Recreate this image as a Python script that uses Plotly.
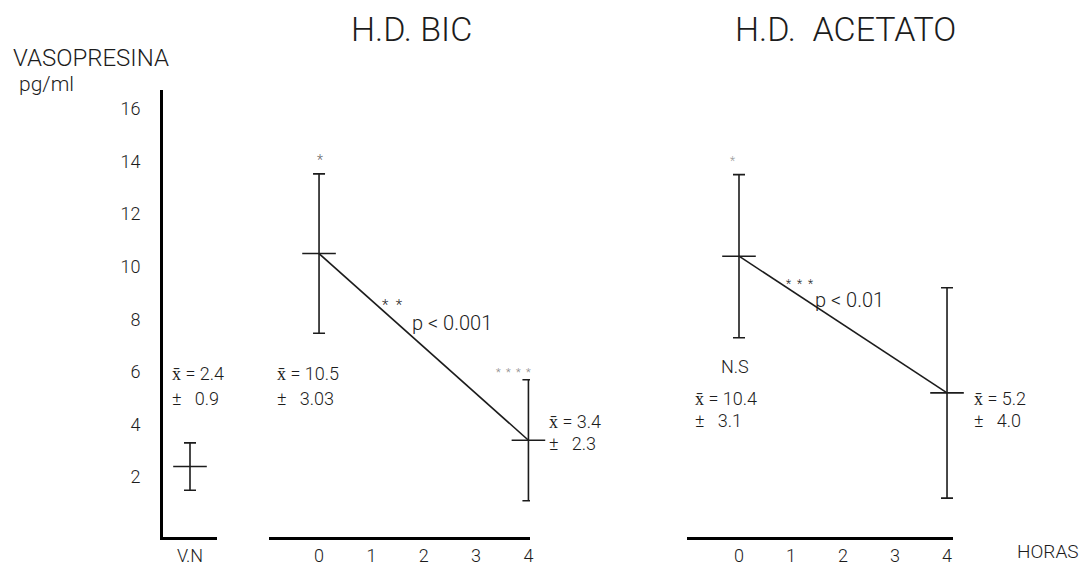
import plotly.graph_objects as go

# Vasopresina (pg/ml): mean and SD for normal volunteers and two dialysis groups
vn_label = ["V.N"]
vn_mean = [2.4]
vn_sd = [0.9]

horas = [0, 4]
bic_mean = [10.5, 3.4]
bic_sd = [3.03, 2.3]
acet_mean = [10.4, 5.2]
acet_sd = [3.1, 4.0]

y_ticks = [2, 4, 6, 8, 10, 12, 14, 16]
hour_ticks = [0, 1, 2, 3, 4]

FONT = "Roboto"
INK = "#1c1c1c"
W, H = 1090, 565


def px_x(p):
    return p / W


def px_y(p):
    return (H - p) / H


# panel geometry (paper fractions) and data ranges
Y_DOMAIN = [px_y(537), px_y(90)]
Y_RANGE = [-0.28, 16.72]
X_AXES = {
    "x": dict(domain=[px_x(163), px_x(217)], range=[-1, 1]),
    "x2": dict(domain=[px_x(269), px_x(530)], range=[-0.956, 4.03]),
    "x3": dict(domain=[px_x(687), px_x(953)], range=[-1.0, 4.115]),
}


def to_paper(xref, x, y):
    d, r = X_AXES[xref]["domain"], X_AXES[xref]["range"]
    px = d[0] + (x - r[0]) / (r[1] - r[0]) * (d[1] - d[0])
    py = Y_DOMAIN[0] + (y - Y_RANGE[0]) / (Y_RANGE[1] - Y_RANGE[0]) * (Y_DOMAIN[1] - Y_DOMAIN[0])
    return px, py


fig = go.Figure()


def group(xaxis, xs, means, sds, connect):
    if connect:
        fig.add_trace(go.Scatter(
            x=xs, y=means, xaxis=xaxis, yaxis="y", mode="lines",
            line=dict(color=INK, width=1.6), hoverinfo="skip", showlegend=False,
        ))
    fig.add_trace(go.Scatter(
        x=xs, y=means, xaxis=xaxis, yaxis="y", mode="markers",
        marker=dict(symbol="line-ew", size=24, color=INK,
                    line=dict(width=1.6, color=INK)),
        error_y=dict(type="data", array=sds, visible=True,
                     thickness=1.6, width=6, color=INK),
        cliponaxis=False, hoverinfo="skip", showlegend=False,
    ))


group("x", [0], vn_mean, vn_sd, False)
group("x2", horas, bic_mean, bic_sd, True)
group("x3", horas, acet_mean, acet_sd, True)

axis_common = dict(
    showline=True, linewidth=3, linecolor="black", showgrid=False,
    zeroline=False, ticks="", fixedrange=True, automargin=False,
    tickfont=dict(family=FONT, size=18, color=INK, weight=300),
    anchor="y", ticklabelstandoff=0,
)

fig.update_layout(
    width=W, height=H,
    margin=dict(l=0, r=0, t=0, b=0),
    paper_bgcolor="white", plot_bgcolor="white",
    xaxis=dict(axis_common, **X_AXES["x"], tickvals=[0], ticktext=vn_label),
    xaxis2=dict(axis_common, **X_AXES["x2"], tickvals=hour_ticks,
                ticktext=[str(h) for h in hour_ticks]),
    xaxis3=dict(axis_common, **X_AXES["x3"], tickvals=hour_ticks,
                ticktext=[str(h) for h in hour_ticks]),
    yaxis=dict(
        showline=True, linewidth=3, linecolor="black", showgrid=False,
        zeroline=False, ticks="", fixedrange=True, anchor="x", automargin=False,
        domain=Y_DOMAIN, range=Y_RANGE,
        tickvals=y_ticks, ticktext=[str(v) for v in y_ticks],
        tickfont=dict(family=FONT, size=18, color=INK, weight=300),
        ticklabelstandoff=16,
    ),
    font=dict(family=FONT, color=INK),
)


def note(text, x, y, xref, size=18, xanchor="left", color=INK):
    if xref != "paper":
        x, y = to_paper(xref, x, y)
    fig.add_annotation(
        text=text, x=x, y=y, xref="paper", yref="paper",
        showarrow=False, xanchor=xanchor, yanchor="middle",
        font=dict(family=FONT, size=size, color=color, weight=300),
    )


XBAR = "x\u0304"

# Normal volunteers
note(f"{XBAR} = {vn_mean[0]}", -0.74, 5.95, "x")
note(f"\u00b1   {vn_sd[0]}", -0.74, 5.0, "x")

# H.D. bicarbonato
note("*", 0.02, 14.05, "x2", size=14, xanchor="center", color="#666")
note("*  *", 1.41, 8.55, "x2", size=15, xanchor="center")
note("p &lt; 0.001", 1.74, 7.86, "x2", size=20)
note(f"{XBAR} = {bic_mean[0]}", -0.84, 5.92, "x2")
note(f"\u00b1   {bic_sd[0]}", -0.84, 5.0, "x2")
note("*  *  *  *", 3.71, 5.96, "x2", size=11, xanchor="center", color="#888")
note(f"{XBAR} = {bic_mean[1]}", 4.36, 4.1, "x2")
note(f"\u00b1   {bic_sd[1]}", 4.36, 3.27, "x2")

# H.D. acetato
note("*", -0.12, 14.01, "x3", size=12, xanchor="center", color="#999")
note("*  *  *", 1.17, 9.35, "x3", size=12, xanchor="center")
note("p &lt; 0.01", 1.42, 8.73, "x3", size=20)
note("N.S", -0.08, 6.2, "x3", xanchor="center")
note(f"{XBAR} = {acet_mean[0]}", -0.88, 5.0, "x3")
note(f"\u00b1   {acet_sd[0]}", -0.88, 4.15, "x3")
note(f"{XBAR} = {acet_mean[1]}", 4.48, 5.0, "x3")
note(f"\u00b1   {acet_sd[1]}", 4.48, 4.15, "x3")

# Titles and axis names
note("H.D. BIC", px_x(411), px_y(29), "paper", size=34, xanchor="center")
note("H.D.  ACETATO", px_x(845), px_y(29), "paper", size=34, xanchor="center")
note("VASOPRESINA", px_x(11), px_y(58), "paper", size=24)
note("pg/ml", px_x(17), px_y(84), "paper", size=21)
note("HORAS", px_x(1048), px_y(551), "paper", size=19, xanchor="center")

fig.write_html("out.html")
